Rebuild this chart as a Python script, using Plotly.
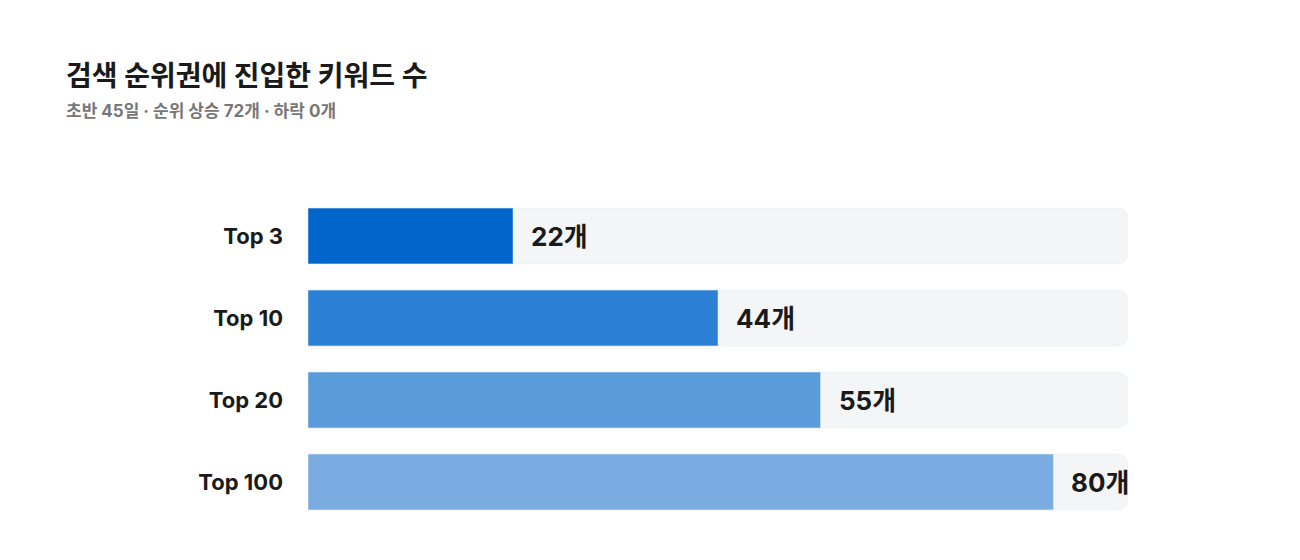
import plotly.graph_objects as go

# data
categories = ["Top 3", "Top 10", "Top 20", "Top 100"]
counts = [22, 44, 55, 80]
track_max = 88
bar_colors = ["#0066CC", "#2B80D5", "#5A9BDB", "#7BACE1"]

FONT = "Inter, Noto Sans CJK KR"

fig = go.Figure()

# grey background track
fig.add_trace(go.Bar(
    y=categories, x=[track_max] * len(categories), orientation="h",
    marker=dict(color="#F4F5F7"), width=0.68,
    hoverinfo="skip", showlegend=False,
))

# value bars
fig.add_trace(go.Bar(
    y=categories, x=counts, orientation="h",
    marker=dict(color=bar_colors), width=0.68,
    showlegend=False,
))

# pixel helpers (plot area is fixed by the margins)
L, R, T, B = 300, 180, 187, 45
pw, ph = 1300 - L - R, 560 - T - B

annotations = [
    dict(text="검색 순위권에 진입한 키워드 수", x=(56 - L) / pw, y=1 - (68 - T) / ph,
         font=dict(family=FONT, size=28, color="#1A1A1A", weight="bold")),
    dict(text="초반 45일 · 순위 상승 72개 · 하락 0개", x=(56 - L) / pw, y=1 - (103 - T) / ph,
         font=dict(family=FONT, size=17, color="#777777", weight="bold")),
]
for a in annotations:
    a.update(xref="paper", yref="paper", showarrow=False, xanchor="left", yanchor="middle")

for c, v in zip(categories, counts):
    annotations.append(dict(
        text=f"{v}개", x=v, y=c, xref="x", yref="y", showarrow=False,
        xanchor="left", yanchor="middle", xshift=16,
        font=dict(family=FONT, size=26, color="#1A1A1A", weight="bold"),
    ))

fig.update_layout(
    width=1300, height=560,
    barmode="overlay", barcornerradius=10,
    plot_bgcolor="white", paper_bgcolor="white",
    margin=dict(l=L, r=R, t=T, b=B, autoexpand=False),
    font=dict(family=FONT),
    xaxis=dict(range=[0, track_max], visible=False, automargin=False),
    yaxis=dict(autorange="reversed", showgrid=False, ticks="", ticklabelstandoff=24,
               automargin=False,
               tickfont=dict(family=FONT, size=22, color="#1A1A1A", weight="bold")),
    annotations=annotations,
)

fig.write_html("out.html")
